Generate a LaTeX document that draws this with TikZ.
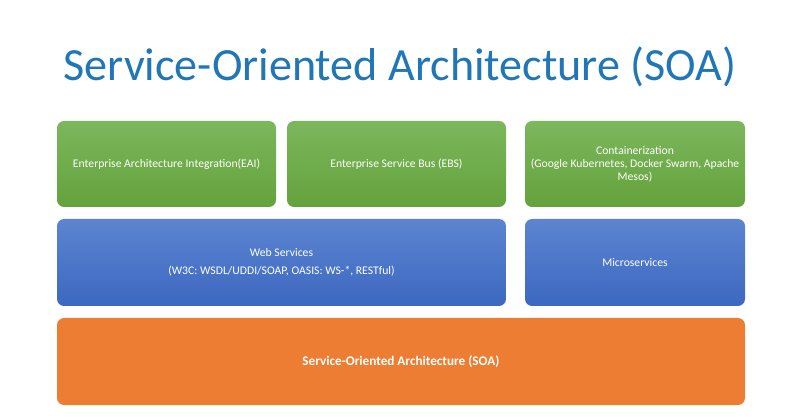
\documentclass[tikz,border=0pt]{standalone}
\usepackage{fontspec}
\setmainfont{Carlito}
\definecolor{soatitle}{RGB}{33,119,182}
\definecolor{soagreentop}{RGB}{124,183,92}
\definecolor{soagreenbot}{RGB}{100,162,60}
\definecolor{soabluetop}{RGB}{92,132,208}
\definecolor{soabluebot}{RGB}{60,104,192}
\definecolor{soaorange}{RGB}{236,125,50}
\usetikzlibrary{positioning}

\begin{document}
\begin{tikzpicture}[
  layer/.style={rounded corners=5pt, inner sep=2pt, align=center, text=white, font=\fontsize{8.3}{9.4}\selectfont},
  greenbox/.style={layer, top color=soagreentop, bottom color=soagreenbot, minimum height=2.15cm},
  bluebox/.style={layer, top color=soabluetop, bottom color=soabluebot, minimum height=2.175cm},
  orangebox/.style={layer, fill=soaorange, minimum height=2.175cm, font=\fontsize{9.4}{11}\selectfont\bfseries}
]
  \useasboundingbox[fill=white] (0,0) rectangle (20,10.475);

  \node[font=\fontsize{32.8}{34}\selectfont, text=soatitle] (title) at (10.0,8.8) {Service-Oriented Architecture (SOA)};

  % top row
  \node[greenbox, minimum width=5.475cm] (eai) at (4.1625,6.375) {Enterprise Architecture Integration(EAI)};
  \node[greenbox, minimum width=5.475cm] (esb) at (9.9125,6.375) {Enterprise Service Bus (EBS)};
  \node[greenbox, minimum width=5.5cm] (cont) at (15.875,6.375) {Containerization\\(Google Kubernetes, Docker Swarm, Apache\\Mesos)};

  % middle row
  \node[bluebox, minimum width=11.225cm] (web) at (7.0375,3.9125) {Web Services\\[3.5pt](W3C: WSDL/UDDI/SOAP, OASIS: WS-*, RESTful)};
  \node[bluebox, minimum width=5.5cm] (micro) at (15.875,3.9125) {Microservices};

  % base
  \node[orangebox, minimum width=17.2cm] (soa) at (10.025,1.4375) {Service-Oriented Architecture (SOA)};
\end{tikzpicture}
\end{document}
